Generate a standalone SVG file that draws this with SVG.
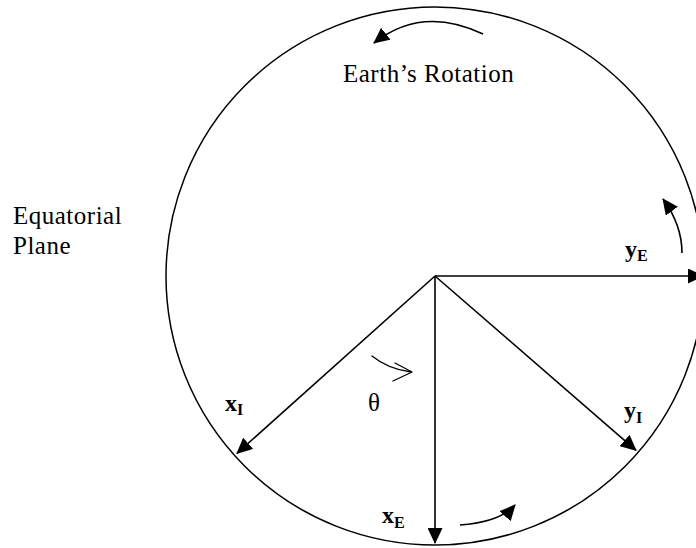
<svg xmlns="http://www.w3.org/2000/svg" width="696" height="548" viewBox="0 0 696 548">
  <style>
    .txt { font-family: "Liberation Serif", "Times New Roman", serif; font-size: 25px; letter-spacing: 0.5px; fill: #000; }
    .lbl { font-family: "Liberation Serif", "Times New Roman", serif; font-size: 24px; font-weight: bold; fill: #000; }
    .sub { font-size: 16px; }
    .axis { fill: none; stroke: #000; stroke-width: 1.6; }
    .rot { fill: none; stroke: #000; stroke-width: 1.6; }
    .thin { fill: none; stroke: #000; stroke-width: 1.3; stroke-linecap: round; stroke-linejoin: round; }
  </style>
  <defs>
    <marker id="head" viewBox="0 0 16 15" refX="15" refY="7.5" markerWidth="16" markerHeight="15" markerUnits="userSpaceOnUse" orient="auto">
      <path d="M0,0 L16,7.5 L0,15 Z" fill="#000"/>
    </marker>
  </defs>
  <rect width="696" height="548" fill="#fff"/>

  <g id="earth">
    <circle cx="435" cy="276" r="269" fill="none" stroke="#000" stroke-width="1.5"/>
  </g>

  <g id="connectors">
    <line class="axis" x1="435" y1="276" x2="435" y2="543" marker-end="url(#head)"/>
    <line class="axis" x1="435" y1="276" x2="703" y2="276" marker-end="url(#head)"/>
    <line class="axis" x1="435" y1="276" x2="237" y2="453.3" marker-end="url(#head)"/>
    <line class="axis" x1="435" y1="276" x2="636" y2="450.3" marker-end="url(#head)"/>
    <path class="rot" d="M483,34 Q422,5 374,43" marker-end="url(#head)"/>
    <path class="rot" d="M682,253 Q682,225 663,199" marker-end="url(#head)"/>
    <path class="rot" d="M460,525 Q500,522 515,505" marker-end="url(#head)"/>
    <path class="thin" d="M372,356 Q388,369 411,372"/>
    <path class="thin" d="M395,363 L412,372 L393,381"/>
  </g>

  <g id="label-rotation"><text class="txt" x="343" y="82">Earth’s Rotation</text></g>
  <g id="label-plane">
    <text class="txt" x="13" y="224">Equatorial</text>
    <text class="txt" x="13" y="254">Plane</text>
  </g>
  <g id="label-theta"><text class="txt" x="368" y="411">θ</text></g>
  <g id="label-xI"><text class="lbl" x="225" y="411">x<tspan class="sub" dy="4">I</tspan></text></g>
  <g id="label-xE"><text class="lbl" x="382" y="523">x<tspan class="sub" dy="5">E</tspan></text></g>
  <g id="label-yE"><text class="lbl" x="625" y="257">y<tspan class="sub" dy="4">E</tspan></text></g>
  <g id="label-yI"><text class="lbl" x="624" y="418">y<tspan class="sub" dy="5">I</tspan></text></g>
</svg>
